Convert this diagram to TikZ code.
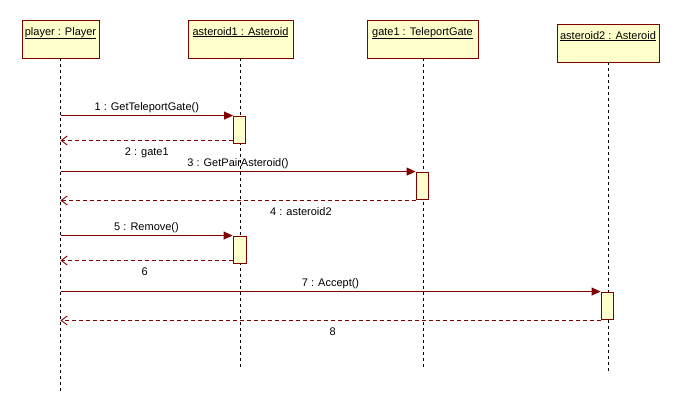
\documentclass[tikz,border=0pt]{standalone}
\usepackage{fontspec}
\setmainfont{Liberation Sans}
\usetikzlibrary{arrows.meta,calc}
\definecolor{umlred}{HTML}{800000}
\definecolor{umlfill}{HTML}{FFFFCC}
\begin{document}
\begin{tikzpicture}[x=1pt,y=-1pt,
  font=\fontsize{11}{13}\selectfont,
  objbox/.style={draw=umlred,fill=umlfill,line width=0.9pt,minimum height=38pt,inner sep=0pt},
  objname/.style={anchor=base,inner sep=0pt},
  lifeline/.style={draw=black,line width=0.8pt,dash pattern=on 3pt off 3pt},
  actbox/.style={draw=umlred,fill=umlfill,line width=0.9pt,minimum width=12pt,minimum height=27pt,inner sep=0pt},
  call/.style={draw=umlred,line width=1pt,-{Triangle[length=9pt,width=8pt]}},
  reply/.style={draw=umlred,line width=0.9pt,dash pattern=on 4pt off 3pt,-{Straight Barb[length=6pt,width=9pt]}},
  calllabel/.style={anchor=base,inner sep=0pt,yshift=5pt,text=black},
  replylabel/.style={anchor=base,inner sep=0pt,yshift=-15pt,text=black}
]
\useasboundingbox[fill=white] (0,0) rectangle (680,416);

% object heads
\node[objbox,minimum width=77pt]  (player) at (60.5,39)  {};
\node[objbox,minimum width=105pt] (ast1)   at (240.5,39) {};
\node[objbox,minimum width=111pt] (gate)   at (422.5,39) {};
\node[objbox,minimum width=102pt] (ast2)   at (608,43)   {};
\node[objname] (playername) at (60.5,35)  {\underline{player : Player}};
\node[objname] (ast1name)   at (240.5,35) {\underline{asteroid1 : Asteroid}};
\node[objname] (gatename)   at (422.5,35) {\underline{gate1 : TeleportGate}};
\node[objname] (ast2name)   at (608,39)   {\underline{asteroid2 : Asteroid}};

% lifelines
\coordinate (playerend) at (60.5,393);
\coordinate (ast1end)   at (240.5,368);
\coordinate (gateend)   at (423,368);
\coordinate (ast2end)   at (608.5,372);
\draw[lifeline] (player.south) -- (playerend);
\draw[lifeline] (ast1.south)   -- (ast1end);
\draw[lifeline] (gate.south -| gateend) -- (gateend);
\draw[lifeline] (ast2.south -| ast2end) -- (ast2end);

% activation bars
\node[actbox] (act1) at (239.5,129.5) {};
\node[actbox] (act2) at (422,185.5)   {};
\node[actbox,minimum width=13pt] (act3) at (239.5,249.5) {};
\node[actbox] (act4) at (607,305.5)   {};

% messages
\draw[call] (act1.north west -| player) -- (act1.north west)
  node[calllabel,midway] {1 : GetTeleportGate()};
\coordinate (r1) at ($(act1.south west)+(0,-3)$);
\draw[reply] (r1) -- (r1 -| player)
  node[replylabel,pos=0.5] {2 : gate1};

\draw[call] (act2.north west -| player) -- (act2.north west)
  node[calllabel,midway] {3 : GetPairAsteroid()};
\coordinate (r2) at ($(act2.south west)+(0,1)$);
\draw[reply] (r2) -- (r2 -| player)
  node[replylabel,pos=0.323] {4 : asteroid2};

\draw[call] (act3.north west -| player) -- (act3.north west)
  node[calllabel,midway] {5 : Remove()};
\coordinate (r3) at ($(act3.south west)+(0,-3)$);
\draw[reply] (r3) -- (r3 -| player)
  node[replylabel,pos=0.51] {6};

\draw[call] (act4.north west -| player) -- (act4.north west)
  node[calllabel,midway] {7 : Accept()};
\coordinate (r4) at ($(act4.south west)+(0,1)$);
\draw[reply] (r4) -- (r4 -| player)
  node[replylabel,pos=0.496] {8};
\end{tikzpicture}
\end{document}
